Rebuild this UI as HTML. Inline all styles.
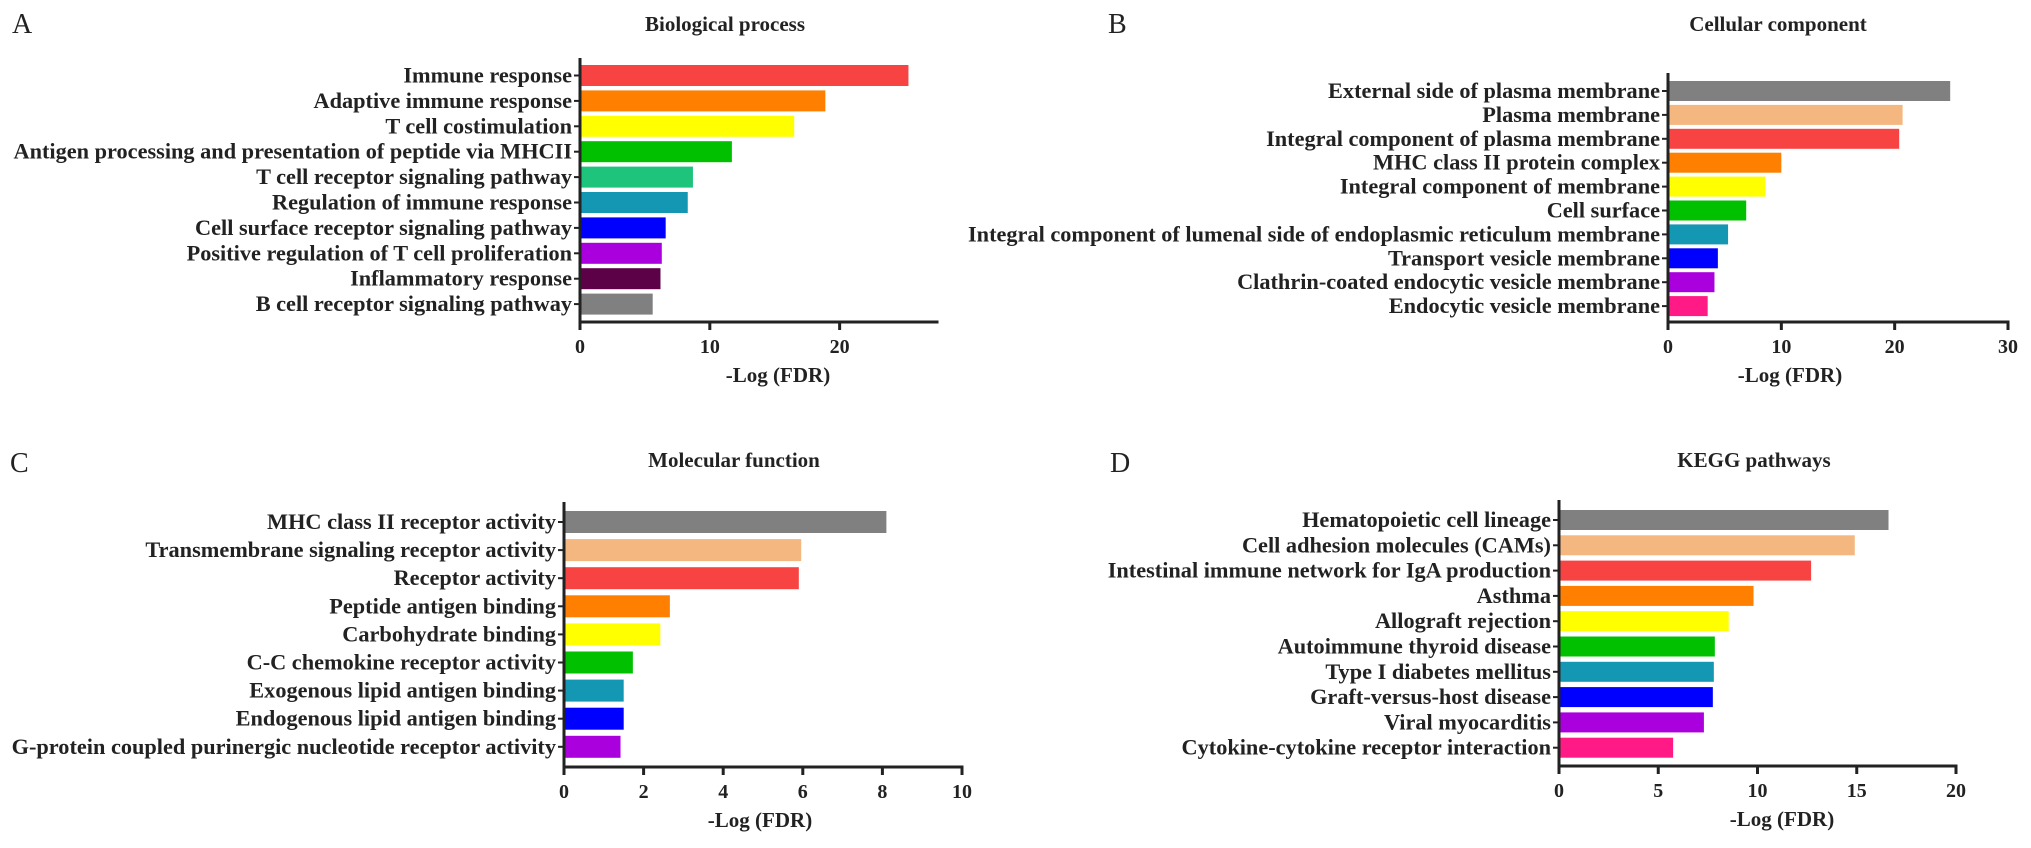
<!DOCTYPE html>
<html><head><meta charset="utf-8"><style>
html,body{margin:0;padding:0;background:#fff;}
svg{display:block;font-family:"Liberation Serif",serif;}
</style></head><body>
<svg id="fig" width="2031" height="848" viewBox="0 0 2031 848" xmlns="http://www.w3.org/2000/svg"></svg>
<script>
const bpCategories=["Immune response","Adaptive immune response","T cell costimulation","Antigen processing and presentation of peptide  via MHCII","T cell receptor signaling pathway","Regulation of immune response","Cell surface receptor signaling pathway","Positive regulation of T cell proliferation","Inflammatory response","B cell receptor signaling pathway"];
const bpValues=[25.3,18.9,16.5,11.7,8.7,8.3,6.6,6.3,6.2,5.6];
const bpColors=["#f84343","#ff7f00","#ffff00","#00c000","#1ec47c","#1497b3","#0000ff","#aa00dd","#5c0047","#808080"];
const bpTicks=[0,10,20];

const ccCategories=["External side of plasma membrane","Plasma membrane","Integral component of plasma membrane","MHC class II protein complex","Integral component of membrane","Cell surface","Integral component of lumenal side of endoplasmic reticulum membrane","Transport vesicle membrane","Clathrin-coated endocytic vesicle membrane","Endocytic vesicle membrane"];
const ccValues=[24.9,20.7,20.4,10.0,8.6,6.9,5.3,4.4,4.1,3.5];
const ccColors=["#808080","#f4b77f","#f84343","#ff7f00","#ffff00","#00c000","#1497b3","#0000ff","#aa00dd","#ff1a86"];
const ccTicks=[0,10,20,30];

const mfCategories=["MHC class II receptor activity","Transmembrane signaling receptor activity","Receptor activity","Peptide antigen binding","Carbohydrate binding","C-C chemokine receptor activity","Exogenous lipid antigen binding","Endogenous lipid antigen binding","G-protein coupled purinergic nucleotide receptor activity"];
const mfValues=[8.1,5.96,5.9,2.66,2.42,1.73,1.5,1.5,1.42];
const mfColors=["#808080","#f4b77f","#f84343","#ff7f00","#ffff00","#00c000","#1497b3","#0000ff","#aa00dd"];
const mfTicks=[0,2,4,6,8,10];

const kgCategories=["Hematopoietic cell lineage","Cell adhesion molecules (CAMs)","Intestinal immune network for IgA production","Asthma","Allograft rejection","Autoimmune thyroid disease","Type I diabetes mellitus","Graft-versus-host disease","Viral myocarditis","Cytokine-cytokine receptor interaction"];
const kgValues=[16.6,14.9,12.7,9.8,8.55,7.85,7.8,7.75,7.3,5.75];
const kgColors=["#808080","#f4b77f","#f84343","#ff7f00","#ffff00","#00c000","#1497b3","#0000ff","#aa00dd","#ff1a86"];
const kgTicks=[0,5,10,15,20];

const NS="http://www.w3.org/2000/svg";
const svg=document.getElementById('fig');
function mk(tag,attrs,parent,text){const e=document.createElementNS(NS,tag);for(const k in attrs)e.setAttribute(k,attrs[k]);if(text!==undefined)e.textContent=text;parent.appendChild(e);return e;}

function panel(p){
  const g=mk('g',{},svg);
  
  
  const xs=v=>p.x0+(v-p.min)/(p.max-p.min)*(p.x1-p.x0);
  const ys=i=>p.yTop+i*p.step;
  const letter=mk('text',{x:p.lx,y:p.ly,'font-size':28,fill:'#222'},g,p.letter);
  
  
  const title=mk('text',{x:p.tx,y:p.ty,'font-size':21,'font-weight':'bold','text-anchor':'middle',fill:'#222'},g,p.title);
  
  
  p.cats.forEach((c,i)=>{
    const y=ys(i);
    const r=mk('rect',{x:xs(0)+1.5,y:y,width:Math.max(0,xs(p.vals[i])-xs(0)-1.5),height:p.bh,fill:p.cols[i]},g);
    
    
    mk('line',{x1:xs(0)-6,x2:xs(0),y1:y+p.bh/2,y2:y+p.bh/2,stroke:'#222','stroke-width':2},g);
    const t=mk('text',{x:xs(0)-8,y:y+p.bh/2+7,'font-size':22.3,'font-weight':'bold','text-anchor':'end',fill:'#222'},g,c);
    
    
  });
  const ya=mk('line',{x1:xs(0),x2:xs(0),y1:p.axTop,y2:p.axY+1.5,stroke:'#222','stroke-width':3},g);
  
  
  const xa=mk('line',{x1:xs(p.min)-1.5,x2:xs(p.max)+1.5,y1:p.axY,y2:p.axY,stroke:'#222','stroke-width':3},g);
  
  
  p.ticks.forEach(v=>{
    mk('line',{x1:xs(v),x2:xs(v),y1:p.axY,y2:p.axY+8,stroke:'#222','stroke-width':3},g);
    const tl=mk('text',{x:xs(v),y:p.axY+31,'font-size':20,'font-weight':'bold','text-anchor':'middle',fill:'#222'},g,String(v));
    
    
  });
  const xt=mk('text',{x:p.xtx,y:p.axY+60,'font-size':21,'font-weight':'bold','text-anchor':'middle',fill:'#222'},g,'-Log (FDR)');
  
  
}

panel({id:'biological-process',letter:'A',lx:12,ly:33,title:'Biological process',tx:725,ty:31,cats:bpCategories,vals:bpValues,cols:bpColors,ticks:bpTicks,min:0,max:27.5,x0:580,x1:937,yTop:65,step:25.4,bh:21,axY:322,axTop:58,xtx:778});
panel({id:'cellular-component',letter:'B',lx:1108,ly:33,title:'Cellular component',tx:1778,ty:31,cats:ccCategories,vals:ccValues,cols:ccColors,ticks:ccTicks,min:0,max:30,x0:1668,x1:2008,yTop:81,step:23.9,bh:20,axY:322,axTop:73,xtx:1790});
panel({id:'molecular-function',letter:'C',lx:10,ly:472,title:'Molecular function',tx:734,ty:467,cats:mfCategories,vals:mfValues,cols:mfColors,ticks:mfTicks,min:0,max:10,x0:564,x1:962,yTop:511,step:28.1,bh:22,axY:767,axTop:502,xtx:760});
panel({id:'kegg-pathways',letter:'D',lx:1110,ly:472,title:'KEGG pathways',tx:1754,ty:467,cats:kgCategories,vals:kgValues,cols:kgColors,ticks:kgTicks,min:0,max:20,x0:1559,x1:1956,yTop:510,step:25.3,bh:20,axY:766,axTop:500,xtx:1782});
</script>
</body></html>
